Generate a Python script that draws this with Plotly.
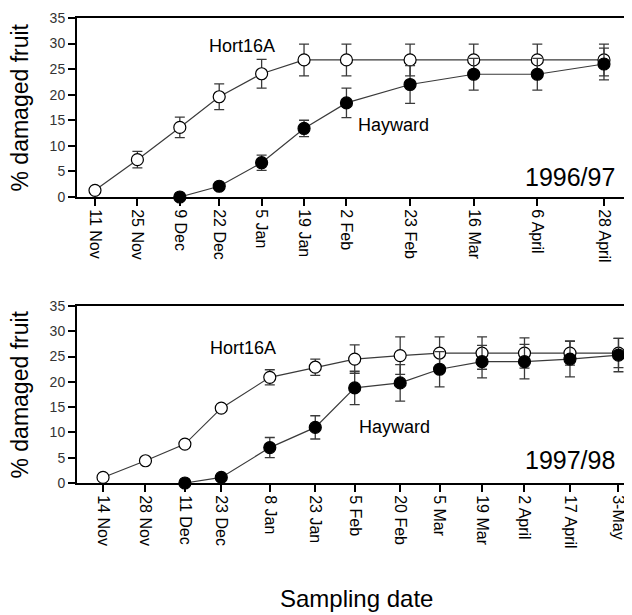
import plotly.graph_objects as go

# ---------- data ----------
dates_9697 = ["1996-11-11", "1996-11-25", "1996-12-09", "1996-12-22", "1997-01-05", "1997-01-19",
              "1997-02-02", "1997-02-23", "1997-03-16", "1997-04-06", "1997-04-28"]
labels_9697 = ["11 Nov", "25 Nov", "9 Dec", "22 Dec", "5 Jan", "19 Jan", "2 Feb", "23 Feb",
               "16 Mar", "6 April", "28 April"]
hort_9697 = [1.3, 7.3, 13.6, 19.6, 24.1, 26.8, 26.8, 26.8, 26.8, 26.8, 26.8]
hort_9697_err = [0.3, 1.6, 2.0, 2.5, 2.8, 3.1, 3.1, 3.1, 3.1, 3.1, 3.1]
hay_dates_9697 = ["1996-12-09", "1996-12-22", "1997-01-05", "1997-01-19", "1997-02-02",
                  "1997-02-23", "1997-03-16", "1997-04-06", "1997-04-28"]
hay_9697 = [0.0, 2.1, 6.7, 13.4, 18.4, 22.0, 24.0, 24.0, 26.0]
hay_9697_err = [0.0, 0.5, 1.5, 1.6, 2.9, 3.7, 3.1, 3.1, 3.1]

dates_9798 = ["1997-11-14", "1997-11-28", "1997-12-11", "1997-12-23", "1998-01-08", "1998-01-23",
              "1998-02-05", "1998-02-20", "1998-03-05", "1998-03-19", "1998-04-02", "1998-04-17",
              "1998-05-03"]
labels_9798 = ["14 Nov", "28 Nov", "11 Dec", "23 Dec", "8 Jan", "23 Jan", "5 Feb", "20 Feb",
               "5 Mar", "19 Mar", "2 April", "17 April", "3-May"]
hort_9798 = [1.1, 4.4, 7.7, 14.8, 20.9, 22.9, 24.5, 25.2, 25.7, 25.7, 25.7, 25.7, 25.7]
hort_9798_err = [0.2, 0.3, 0.4, 0.6, 1.5, 1.6, 2.8, 3.7, 3.2, 3.2, 3.0, 2.4, 2.9]
hay_dates_9798 = ["1997-12-11", "1997-12-23", "1998-01-08", "1998-01-23", "1998-02-05",
                  "1998-02-20", "1998-03-05", "1998-03-19", "1998-04-02", "1998-04-17", "1998-05-03"]
hay_9798 = [0.0, 1.1, 7.0, 11.0, 18.8, 19.8, 22.5, 24.0, 24.0, 24.5, 25.3]
hay_9798_err = [0.0, 0.5, 2.0, 2.3, 3.3, 3.6, 3.5, 3.2, 3.4, 3.5, 3.3]

y_ticks = [0, 5, 10, 15, 20, 25, 30, 35]

# ---------- figure ----------
# The page body keeps its default 8px margin, so the figure is sized 8px smaller
# and everything lands at the reference position in the 632x615 window.
FONT = "Liberation Sans, Arial, sans-serif"
LINE = "#3a3a3a"
fig = go.Figure()

def add_series(x, y, err, xa, ya, filled):
    fig.add_trace(go.Scatter(
        x=x, y=y, xaxis=xa, yaxis=ya, mode="lines+markers",
        line=dict(color=LINE, width=1.2),
        marker=dict(size=12, color="black" if filled else "white",
                    line=dict(color="black", width=1.2)),
        error_y=dict(type="data", array=err, visible=True, color=LINE, thickness=1.3, width=5),
        showlegend=False, cliponaxis=False))

add_series(dates_9697, hort_9697, hort_9697_err, "x", "y", False)
add_series(hay_dates_9697, hay_9697, hay_9697_err, "x", "y", True)
add_series(dates_9798, hort_9798, hort_9798_err, "x2", "y2", False)
add_series(hay_dates_9798, hay_9798, hay_9798_err, "x2", "y2", True)

xcommon = dict(type="date", showline=True, linecolor="black", linewidth=2, mirror=True,
               ticks="outside", ticklen=7, tickwidth=1.5, tickcolor="black",
               tickangle=90, tickfont=dict(family=FONT, size=16, color="black"),
               showgrid=False, zeroline=False, automargin=False)
ycommon = dict(range=[0, 35], tickvals=y_ticks, showline=True, linecolor="black", linewidth=2,
               ticks="outside", ticklen=7, tickwidth=1.5, tickcolor="black",
               tickfont=dict(family=FONT, size=14, color="#333"), showgrid=False, zeroline=False,
               automargin=False)

fig.update_layout(
    width=624, height=607, margin=dict(l=69, r=0, t=10, b=132),
    plot_bgcolor="white", paper_bgcolor="white",
    xaxis=dict(xcommon, domain=[0, 1], anchor="y", tickvals=dates_9697, ticktext=labels_9697,
               range=["1996-11-05 01:30", "1997-05-07 06:00"]),
    yaxis=dict(ycommon, domain=[0.6151, 1.0], anchor="x"),
    xaxis2=dict(xcommon, domain=[0, 1], anchor="y2", tickvals=dates_9798, ticktext=labels_9798,
                range=["1997-11-05 10:00", "1998-05-07 11:00"]),
    yaxis2=dict(ycommon, domain=[0, 0.3806], anchor="x2"),
)

ytitle = dict(showarrow=False, text="% damaged fruit", textangle=-90, xref="paper",
              x=(20 - 77) / 555, y=0.5, xanchor="center", yanchor="middle",
              font=dict(family=FONT, size=23, color="black"))
fig.add_annotation(ytitle, yref="y domain")
fig.add_annotation(ytitle, yref="y2 domain")

ann = dict(showarrow=False, xanchor="center", yanchor="middle",
           font=dict(family=FONT, size=18, color="black"))
big = dict(showarrow=False, xanchor="center", yanchor="middle",
           font=dict(family=FONT, size=25, color="black"))
fig.add_annotation(ann, x="1996-12-29 12:00", y=29.5, xref="x", yref="y", text="Hort16A")
fig.add_annotation(ann, x="1997-02-17 16:00", y=14.1, xref="x", yref="y", text="Hayward")
fig.add_annotation(big, x=0.888, y=3.9, xref="paper", yref="y", text="1996/97")
fig.add_annotation(ann, x="1997-12-30", y=26.7, xref="x2", yref="y2", text="Hort16A")
fig.add_annotation(ann, x="1998-02-18", y=11.1, xref="x2", yref="y2", text="Hayward")
fig.add_annotation(big, x=0.888, y=4.5, xref="paper", yref="y2", text="1997/98")
fig.add_annotation(showarrow=False, x=(356 - 77) / 555, y=-(598 - 483) / 465, xref="paper",
                   yref="paper", xanchor="center", yanchor="middle", text="Sampling date",
                   font=dict(family=FONT, size=24, color="black"))

fig.write_html("out.html")
